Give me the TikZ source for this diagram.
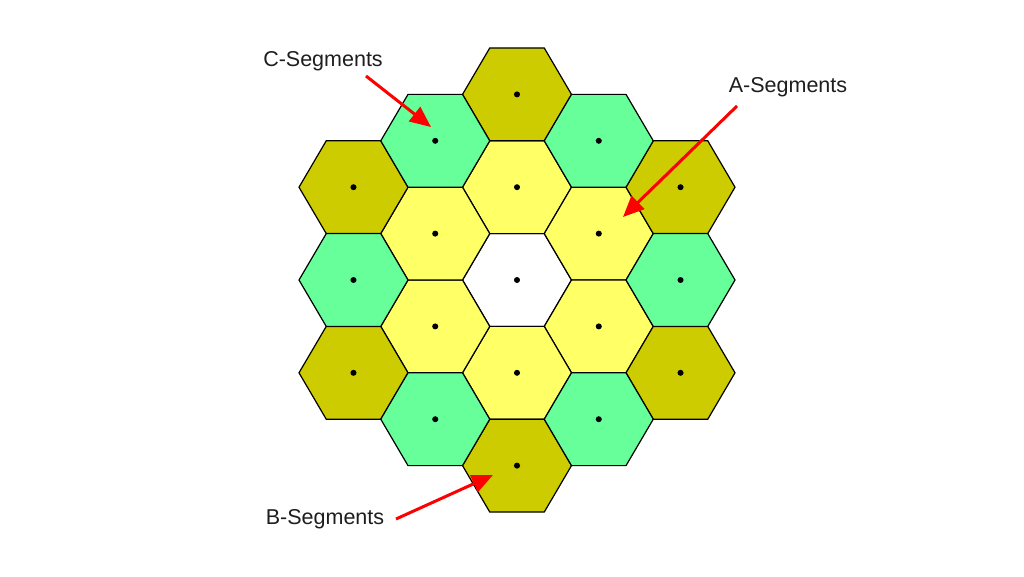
\documentclass[tikz,border=0pt]{standalone}
\usepackage{fontspec}
\setmainfont{Liberation Sans}
\usetikzlibrary{shapes.geometric,arrows.meta}
\definecolor{segA}{RGB}{255,255,102}
\definecolor{segB}{RGB}{204,204,0}
\definecolor{segC}{RGB}{102,255,153}
\definecolor{arrowred}{RGB}{255,0,0}
\definecolor{labelgray}{RGB}{30,30,30}
\tikzset{
  hexbase/.style={regular polygon, regular polygon sides=6, minimum size=107.2pt,
    inner sep=0pt, outer sep=0pt, draw=black, line width=1.2pt},
  hexA/.style={hexbase, fill=segA},
  hexB/.style={hexbase, fill=segB},
  hexC/.style={hexbase, fill=segC},
  hexO/.style={hexbase, fill=white},
  seglabel/.style={font=\fontsize{21.5}{24}\selectfont, text=labelgray, inner sep=0pt},
  pointer/.style={draw=arrowred, line width=3pt, -{Triangle[length=21pt,width=18pt]}},
}
\begin{document}
\begin{tikzpicture}[x=1pt,y=-1pt]
\useasboundingbox[fill=white] (0,0) rectangle (1024,576);
\begin{scope}[shift={(517,280)}, xscale=1.0168, transform shape]
  % centre
  \node[hexO] (h0) at (0,0) {};
  % ring 1: A segments
  \node[hexA] (a1) at (0,-92.8) {};
  \node[hexA] (a2) at (80.4,-46.4) {};
  \node[hexA] (a3) at (80.4,46.4) {};
  \node[hexA] (a4) at (0,92.8) {};
  \node[hexA] (a5) at (-80.4,46.4) {};
  \node[hexA] (a6) at (-80.4,-46.4) {};
  % ring 2: B segments
  \node[hexB] (b1) at (0,-185.6) {};
  \node[hexB] (b2) at (160.8,-92.8) {};
  \node[hexB] (b3) at (160.8,92.8) {};
  \node[hexB] (b4) at (0,185.6) {};
  \node[hexB] (b5) at (-160.8,92.8) {};
  \node[hexB] (b6) at (-160.8,-92.8) {};
  % ring 2: C segments
  \node[hexC] (c1) at (80.4,-139.2) {};
  \node[hexC] (c2) at (160.8,0) {};
  \node[hexC] (c3) at (80.4,139.2) {};
  \node[hexC] (c4) at (-80.4,139.2) {};
  \node[hexC] (c5) at (-160.8,0) {};
  \node[hexC] (c6) at (-80.4,-139.2) {};
  % centre dots
  \foreach \n in {h0,a1,a2,a3,a4,a5,a6,b1,b2,b3,b4,b5,b6,c1,c2,c3,c4,c5,c6}
    \fill (\n.center) circle (3);
\end{scope}
% labels
\node[seglabel] (lc) at (323,61) {C-Segments};
\node[seglabel] (la) at (788,87) {A-Segments};
\node[seglabel] (lb) at (325,519) {B-Segments};
% pointer ends
\coordinate (sc) at (366,76);
\coordinate (tc) at (431,127);
\coordinate (sa) at (737,106);
\coordinate (ta) at (623,217);
\coordinate (sb) at (396,519);
\coordinate (tb) at (493,475);
\draw[pointer] (sc) -- (tc);
\draw[pointer] (sa) -- (ta);
\draw[pointer] (sb) -- (tb);
\end{tikzpicture}
\end{document}
